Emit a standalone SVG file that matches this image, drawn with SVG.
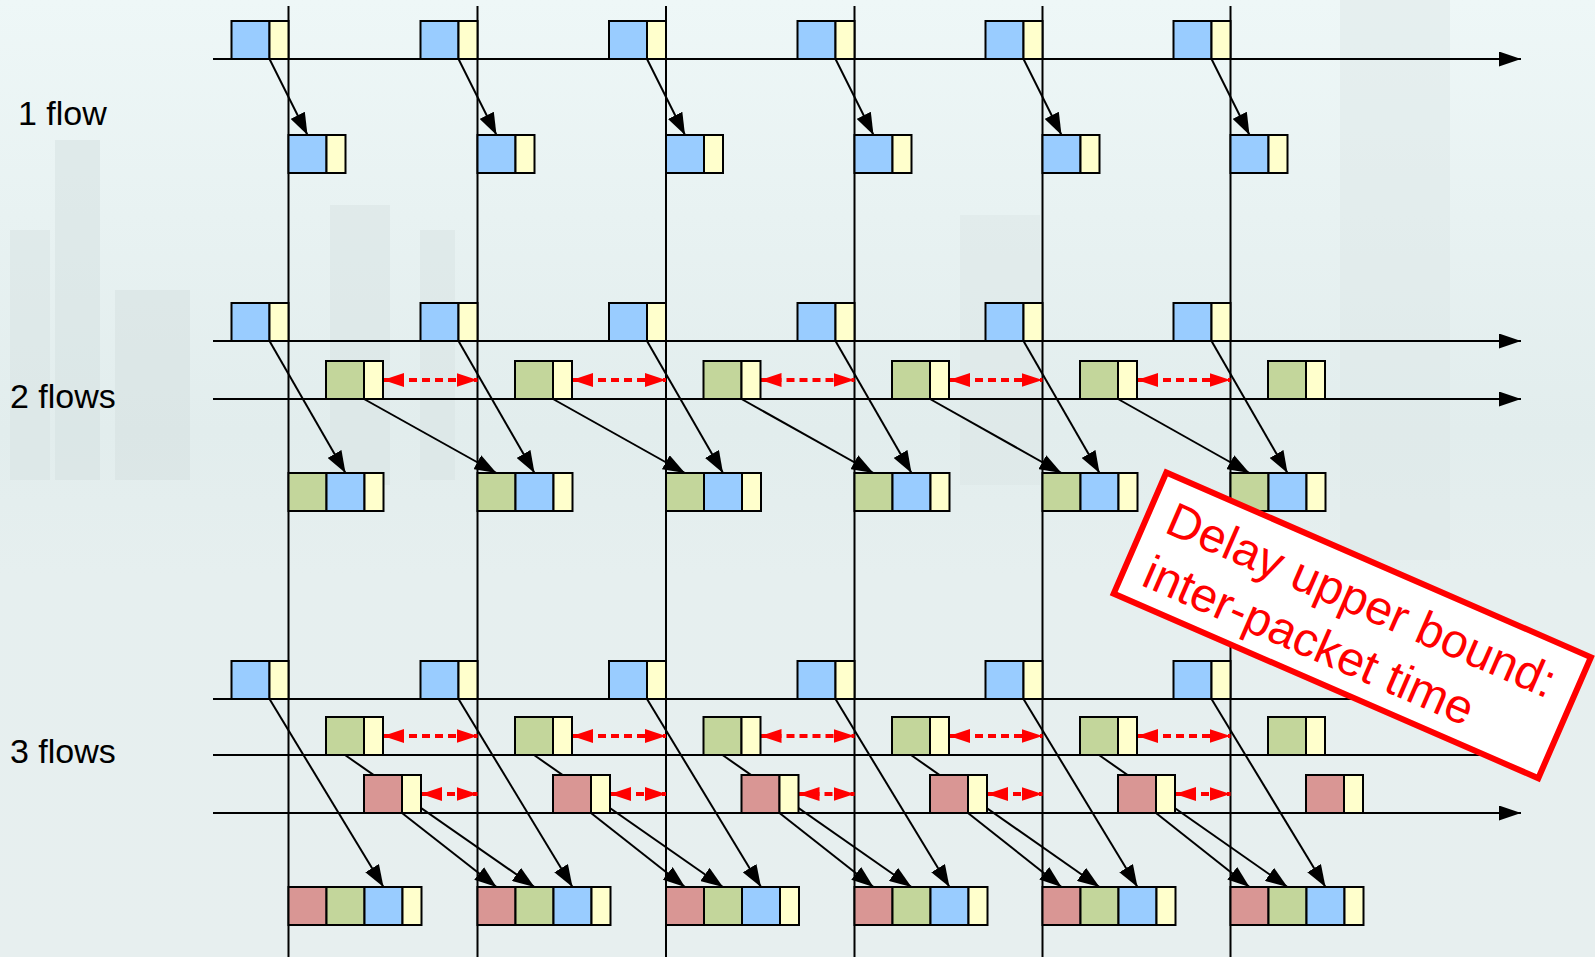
<svg xmlns="http://www.w3.org/2000/svg" xmlns:xlink="http://www.w3.org/1999/xlink" width="1595" height="957" viewBox="0 0 1595 957">
<style>
.ln{stroke:#000;stroke-width:2;fill:none}
.ax{stroke:#000;stroke-width:2;fill:none;marker-end:url(#axh)}
.ar{stroke:#000;stroke-width:2;fill:none;marker-end:url(#ah)}
.rd{stroke:#f00;stroke-width:4;fill:none;stroke-dasharray:8 5;marker-start:url(#rh);marker-end:url(#rh)}
.bx{stroke:#000;stroke-width:2}
.b{fill:#99ccff}.y{fill:#ffffcc}.g{fill:#c3d69b}.r{fill:#d99694}
.lbl{font-family:"Liberation Sans",Arial,sans-serif;font-size:34px;fill:#000}
.note{font-family:"Liberation Sans",Arial,sans-serif;font-size:48px;fill:#f00}
</style>
<defs>
<linearGradient id="bg" x1="0" y1="0" x2="0" y2="1">
<stop offset="0" stop-color="#eef7f7"/>
<stop offset="0.45" stop-color="#e2eded"/>
<stop offset="0.6" stop-color="#e6efef"/>
<stop offset="1" stop-color="#e7efef"/>
</linearGradient>
<marker id="axh" markerUnits="userSpaceOnUse" markerWidth="22" markerHeight="15" refX="22" refY="7.5" orient="auto"><path d="M0,0 L22,7.5 L0,15 z" fill="#000"/></marker>
<marker id="ah" markerUnits="userSpaceOnUse" markerWidth="22" markerHeight="16" refX="22" refY="8" orient="auto"><path d="M0,0 L22,8 L0,16 z" fill="#000"/></marker>
<marker id="rh" markerUnits="userSpaceOnUse" markerWidth="21" markerHeight="14" refX="21" refY="7" orient="auto-start-reverse"><path d="M0,0 L21,7 L0,14 z" fill="#f00"/></marker>
<g id="pB"><rect class="bx b" x="0" y="0" width="38" height="38"/><rect class="bx y" x="38" y="0" width="19" height="38"/></g>
<g id="pG"><rect class="bx g" x="0" y="0" width="38" height="38"/><rect class="bx y" x="38" y="0" width="19" height="38"/></g>
<g id="pR"><rect class="bx r" x="0" y="0" width="38" height="38"/><rect class="bx y" x="38" y="0" width="19" height="38"/></g>
<g id="pGB"><rect class="bx g" x="0" y="0" width="38" height="38"/><rect class="bx b" x="38" y="0" width="38" height="38"/><rect class="bx y" x="76" y="0" width="19" height="38"/></g>
<g id="pRGB"><rect class="bx r" x="0" y="0" width="38" height="38"/><rect class="bx g" x="38" y="0" width="38" height="38"/><rect class="bx b" x="76" y="0" width="38" height="38"/><rect class="bx y" x="114" y="0" width="19" height="38"/></g>
</defs>
<rect x="0" y="0" width="1595" height="957" fill="url(#bg)"/>
<g id="background" opacity="0.5">
<rect x="55" y="140" width="45" height="340" fill="#d6e2e2"/>
<rect x="10" y="230" width="40" height="250" fill="#d9e4e4"/>
<rect x="115" y="290" width="75" height="190" fill="#d6e1e1"/>
<rect x="330" y="205" width="60" height="280" fill="#d9e4e4"/>
<rect x="420" y="230" width="35" height="250" fill="#d9e4e4"/>
<rect x="960" y="215" width="80" height="270" fill="#dbe5e5"/>
<rect x="1340" y="0" width="110" height="560" fill="#dde7e7"/>
</g>
<g id="grid">
<line class="ln" x1="288.5" y1="6" x2="288.5" y2="957"/>
<line class="ln" x1="477.5" y1="6" x2="477.5" y2="957"/>
<line class="ln" x1="666" y1="6" x2="666" y2="957"/>
<line class="ln" x1="854.5" y1="6" x2="854.5" y2="957"/>
<line class="ln" x1="1042.5" y1="6" x2="1042.5" y2="957"/>
<line class="ln" x1="1230.5" y1="6" x2="1230.5" y2="957"/>
<line class="ax" x1="213" y1="59" x2="1521" y2="59"/>
<line class="ax" x1="213" y1="341" x2="1521" y2="341"/>
<line class="ax" x1="213" y1="399" x2="1521" y2="399"/>
<line class="ax" x1="213" y1="699" x2="1521" y2="699"/>
<line class="ax" x1="213" y1="755" x2="1521" y2="755"/>
<line class="ax" x1="213" y1="813" x2="1521" y2="813"/>
</g>
<g id="labels">
<text class="lbl" x="18" y="125">1 flow</text>
<text class="lbl" x="10" y="408">2 flows</text>
<text class="lbl" x="10" y="763">3 flows</text>
</g>
<g id="connectors">
<line class="ar" x1="269.5" y1="59" x2="307.5" y2="135"/>
<line class="ar" x1="458.5" y1="59" x2="496.5" y2="135"/>
<line class="ar" x1="647" y1="59" x2="685" y2="135"/>
<line class="ar" x1="835.5" y1="59" x2="873.5" y2="135"/>
<line class="ar" x1="1023.5" y1="59" x2="1061.5" y2="135"/>
<line class="ar" x1="1211.5" y1="59" x2="1249.5" y2="135"/>
<line class="ar" x1="269.5" y1="341" x2="345.5" y2="473"/>
<line class="ar" x1="458.5" y1="341" x2="534.5" y2="473"/>
<line class="ar" x1="647" y1="341" x2="723" y2="473"/>
<line class="ar" x1="835.5" y1="341" x2="911.5" y2="473"/>
<line class="ar" x1="1023.5" y1="341" x2="1099.5" y2="473"/>
<line class="ar" x1="1211.5" y1="341" x2="1287.5" y2="473"/>
<line class="ar" x1="364" y1="399" x2="496.5" y2="473"/>
<line class="ar" x1="553" y1="399" x2="685" y2="473"/>
<line class="ar" x1="741.5" y1="399" x2="873.5" y2="473"/>
<line class="ar" x1="930" y1="399" x2="1061.5" y2="473"/>
<line class="ar" x1="1118" y1="399" x2="1249.5" y2="473"/>
<line class="rd" x1="383" y1="380" x2="477.5" y2="380"/>
<line class="rd" x1="572" y1="380" x2="666" y2="380"/>
<line class="rd" x1="760.5" y1="380" x2="854.5" y2="380"/>
<line class="rd" x1="949" y1="380" x2="1042.5" y2="380"/>
<line class="rd" x1="1137" y1="380" x2="1230.5" y2="380"/>
<line class="ar" x1="269.5" y1="699" x2="383.5" y2="887"/>
<line class="ar" x1="458.5" y1="699" x2="572.5" y2="887"/>
<line class="ar" x1="647" y1="699" x2="761" y2="887"/>
<line class="ar" x1="835.5" y1="699" x2="949.5" y2="887"/>
<line class="ar" x1="1023.5" y1="699" x2="1137.5" y2="887"/>
<line class="ar" x1="1211.5" y1="699" x2="1325.5" y2="887"/>
<line class="ar" x1="345" y1="755" x2="534.5" y2="887"/>
<line class="ar" x1="534" y1="755" x2="723" y2="887"/>
<line class="ar" x1="722.5" y1="755" x2="911.5" y2="887"/>
<line class="ar" x1="911" y1="755" x2="1099.5" y2="887"/>
<line class="ar" x1="1099" y1="755" x2="1287.5" y2="887"/>
<line class="ar" x1="402" y1="813" x2="496.5" y2="887"/>
<line class="ar" x1="591" y1="813" x2="685" y2="887"/>
<line class="ar" x1="779.5" y1="813" x2="873.5" y2="887"/>
<line class="ar" x1="968" y1="813" x2="1061.5" y2="887"/>
<line class="ar" x1="1156" y1="813" x2="1249.5" y2="887"/>
<line class="rd" x1="383" y1="736" x2="477.5" y2="736"/>
<line class="rd" x1="572" y1="736" x2="666" y2="736"/>
<line class="rd" x1="760.5" y1="736" x2="854.5" y2="736"/>
<line class="rd" x1="949" y1="736" x2="1042.5" y2="736"/>
<line class="rd" x1="1137" y1="736" x2="1230.5" y2="736"/>
<line class="rd" x1="421" y1="794" x2="477.5" y2="794"/>
<line class="rd" x1="610" y1="794" x2="666" y2="794"/>
<line class="rd" x1="798.5" y1="794" x2="854.5" y2="794"/>
<line class="rd" x1="987" y1="794" x2="1042.5" y2="794"/>
<line class="rd" x1="1175" y1="794" x2="1230.5" y2="794"/>
</g>
<g id="f1-in-1"><use xlink:href="#pB" x="231.5" y="21"/></g>
<g id="f1-in-2"><use xlink:href="#pB" x="420.5" y="21"/></g>
<g id="f1-in-3"><use xlink:href="#pB" x="609" y="21"/></g>
<g id="f1-in-4"><use xlink:href="#pB" x="797.5" y="21"/></g>
<g id="f1-in-5"><use xlink:href="#pB" x="985.5" y="21"/></g>
<g id="f1-in-6"><use xlink:href="#pB" x="1173.5" y="21"/></g>
<g id="f1-out-1"><use xlink:href="#pB" x="288.5" y="135"/></g>
<g id="f1-out-2"><use xlink:href="#pB" x="477.5" y="135"/></g>
<g id="f1-out-3"><use xlink:href="#pB" x="666" y="135"/></g>
<g id="f1-out-4"><use xlink:href="#pB" x="854.5" y="135"/></g>
<g id="f1-out-5"><use xlink:href="#pB" x="1042.5" y="135"/></g>
<g id="f1-out-6"><use xlink:href="#pB" x="1230.5" y="135"/></g>
<g id="f2-blue-1"><use xlink:href="#pB" x="231.5" y="303"/></g>
<g id="f2-blue-2"><use xlink:href="#pB" x="420.5" y="303"/></g>
<g id="f2-blue-3"><use xlink:href="#pB" x="609" y="303"/></g>
<g id="f2-blue-4"><use xlink:href="#pB" x="797.5" y="303"/></g>
<g id="f2-blue-5"><use xlink:href="#pB" x="985.5" y="303"/></g>
<g id="f2-blue-6"><use xlink:href="#pB" x="1173.5" y="303"/></g>
<g id="f2-green-1"><use xlink:href="#pG" x="326" y="361"/></g>
<g id="f2-green-2"><use xlink:href="#pG" x="515" y="361"/></g>
<g id="f2-green-3"><use xlink:href="#pG" x="703.5" y="361"/></g>
<g id="f2-green-4"><use xlink:href="#pG" x="892" y="361"/></g>
<g id="f2-green-5"><use xlink:href="#pG" x="1080" y="361"/></g>
<g id="f2-green-6"><use xlink:href="#pG" x="1268" y="361"/></g>
<g id="f2-out-1"><use xlink:href="#pGB" x="288.5" y="473"/></g>
<g id="f2-out-2"><use xlink:href="#pGB" x="477.5" y="473"/></g>
<g id="f2-out-3"><use xlink:href="#pGB" x="666" y="473"/></g>
<g id="f2-out-4"><use xlink:href="#pGB" x="854.5" y="473"/></g>
<g id="f2-out-5"><use xlink:href="#pGB" x="1042.5" y="473"/></g>
<g id="f2-out-6"><use xlink:href="#pGB" x="1230.5" y="473"/></g>
<g id="f3-blue-1"><use xlink:href="#pB" x="231.5" y="661"/></g>
<g id="f3-blue-2"><use xlink:href="#pB" x="420.5" y="661"/></g>
<g id="f3-blue-3"><use xlink:href="#pB" x="609" y="661"/></g>
<g id="f3-blue-4"><use xlink:href="#pB" x="797.5" y="661"/></g>
<g id="f3-blue-5"><use xlink:href="#pB" x="985.5" y="661"/></g>
<g id="f3-blue-6"><use xlink:href="#pB" x="1173.5" y="661"/></g>
<g id="f3-green-1"><use xlink:href="#pG" x="326" y="717"/></g>
<g id="f3-green-2"><use xlink:href="#pG" x="515" y="717"/></g>
<g id="f3-green-3"><use xlink:href="#pG" x="703.5" y="717"/></g>
<g id="f3-green-4"><use xlink:href="#pG" x="892" y="717"/></g>
<g id="f3-green-5"><use xlink:href="#pG" x="1080" y="717"/></g>
<g id="f3-green-6"><use xlink:href="#pG" x="1268" y="717"/></g>
<g id="f3-red-1"><use xlink:href="#pR" x="364" y="775"/></g>
<g id="f3-red-2"><use xlink:href="#pR" x="553" y="775"/></g>
<g id="f3-red-3"><use xlink:href="#pR" x="741.5" y="775"/></g>
<g id="f3-red-4"><use xlink:href="#pR" x="930" y="775"/></g>
<g id="f3-red-5"><use xlink:href="#pR" x="1118" y="775"/></g>
<g id="f3-red-6"><use xlink:href="#pR" x="1306" y="775"/></g>
<g id="f3-out-1"><use xlink:href="#pRGB" x="288.5" y="887"/></g>
<g id="f3-out-2"><use xlink:href="#pRGB" x="477.5" y="887"/></g>
<g id="f3-out-3"><use xlink:href="#pRGB" x="666" y="887"/></g>
<g id="f3-out-4"><use xlink:href="#pRGB" x="854.5" y="887"/></g>
<g id="f3-out-5"><use xlink:href="#pRGB" x="1042.5" y="887"/></g>
<g id="f3-out-6"><use xlink:href="#pRGB" x="1230.5" y="887"/></g>
<g id="note" transform="translate(1352.3,625.4) rotate(23.5)">
<rect x="-231.5" y="-66" width="463" height="132" fill="#fff" stroke="#f00" stroke-width="6"/>
<text class="note" x="-211" y="-10.5">Delay upper bound:</text>
<text class="note" x="-211" y="47.5">inter-packet time</text>
</g>
</svg>
